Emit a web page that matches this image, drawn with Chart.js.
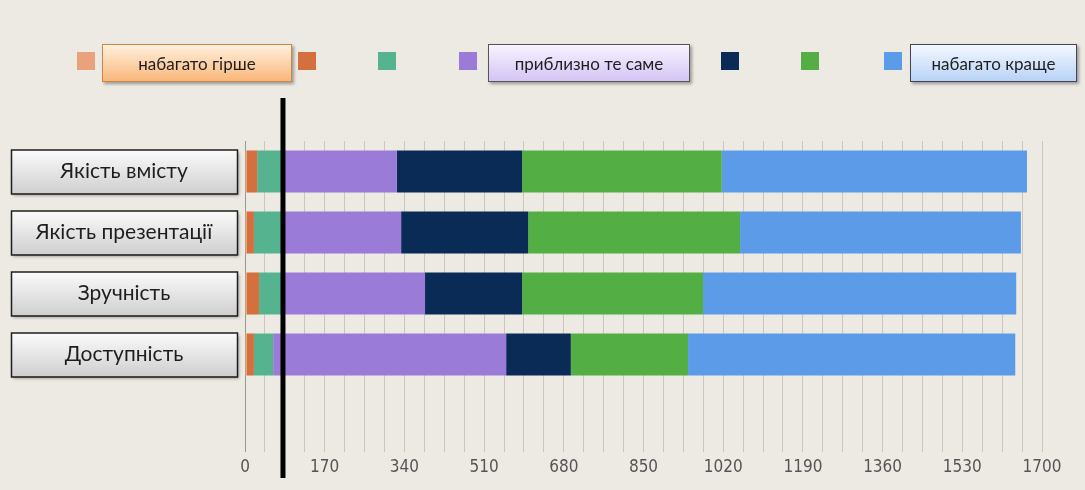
<!DOCTYPE html>
<html>
<head>
<meta charset="utf-8">
<script src="https://cdn.jsdelivr.net/npm/chart.js@4"></script>
<style>
html, body { margin: 0; padding: 0; background: #edeae4; }
#wrap { position: relative; width: 1085px; height: 490px; overflow: hidden; }
#chart { position: absolute; left: 0; top: 0; }
.sw { position: absolute; top: 52px; width: 18px; height: 18px; }
.lb { position: absolute; top: 44px; height: 38px; box-sizing: border-box; border: 1px solid #6a6a6a;
      font: 17px Lato, sans-serif; color: #1e1e1e; display: flex; align-items: center;
      justify-content: center; box-shadow: 2px 2px 3px rgba(0,0,0,.35); }
</style>
</head>
<body>
<div id="wrap">
  <canvas id="chart" width="1085" height="490"></canvas>
  <div id="legend"></div>
</div>
<script>
const categories = ['Якість вмісту', 'Якість презентації', 'Зручність', 'Доступність', ''];
const seriesNames = ['набагато гірше', '', '', 'приблизно те саме', '', '', 'набагато краще'];
const seriesColors = ['#e9a27c', '#d46f3e', '#55b48f', '#9b7bd8', '#0b2b57', '#53af44', '#5b9be8'];

const muchWorse   = [4, 4, 4, 4];
const worse       = [22, 15, 26, 15];
const slightWorse = [54, 61, 50, 41];
const same        = [244, 253, 304, 497];
const slightBetter = [267, 271, 207, 138];
const better      = [426, 452, 386, 250];
const muchBetter  = [651, 599, 668, 698];
const seriesValues = [muchWorse, worse, slightWorse, same, slightBetter, better, muchBetter];

const xTicks = [0, 170, 340, 510, 680, 850, 1020, 1190, 1360, 1530, 1700];
const markerValue = 81;

// legend (html, boxes around some names)
const legendLeft = [77, 298, 378, 459, 721, 801, 884];
const labelBox = {
    0: { left: 102, width: 190, bg: 'linear-gradient(#fff0de, #f9b77a)', border: '#c9874c' },
    3: { left: 488, width: 202, bg: 'linear-gradient(#f7f3ff, #d4c4f4)', border: '#555' },
    6: { left: 910, width: 167, bg: 'linear-gradient(#f4f8ff, #b8d3f7)', border: '#445' }
};
const legend = document.getElementById('legend');
seriesNames.forEach((name, i) => {
    const sw = document.createElement('div');
    sw.className = 'sw';
    sw.style.left = legendLeft[i] + 'px';
    sw.style.background = seriesColors[i];
    legend.appendChild(sw);
    if (name) {
        const b = labelBox[i];
        const lb = document.createElement('div');
        lb.className = 'lb';
        lb.textContent = name;
        lb.style.left = b.left + 'px';
        lb.style.width = b.width + 'px';
        lb.style.background = b.bg;
        lb.style.borderColor = b.border;
        legend.appendChild(lb);
    }
});

// boxed category labels
const boxLabels = {
    id: 'boxLabels',
    afterDraw(chart) {
        const ctx = chart.ctx, y = chart.scales.y;
        categories.forEach((c, i) => {
            if (!c) return;
            const cy = y.getPixelForValue(i);
            const top = cy - 22, left = 11, w = 226, h = 44;
            ctx.save();
            ctx.shadowColor = 'rgba(0,0,0,0.35)';
            ctx.shadowOffsetX = 2; ctx.shadowOffsetY = 2; ctx.shadowBlur = 3;
            const g = ctx.createLinearGradient(0, top, 0, top + h);
            g.addColorStop(0, '#fbfbfb');
            g.addColorStop(1, '#cfcfcf');
            ctx.fillStyle = g;
            ctx.fillRect(left, top, w, h);
            ctx.restore();
            ctx.save();
            ctx.strokeStyle = '#1e1e1e';
            ctx.lineWidth = 1.5;
            ctx.strokeRect(left + 0.5, top + 0.5, w, h);
            ctx.fillStyle = '#1e1e1e';
            ctx.font = '21px Lato, sans-serif';
            ctx.textAlign = 'center';
            ctx.textBaseline = 'middle';
            ctx.fillText(c, left + w / 2, cy);
            ctx.restore();
        });
    }
};

// thick black marker line
const marker = {
    id: 'marker',
    afterDraw(chart) {
        const ctx = chart.ctx;
        const x = chart.scales.x.getPixelForValue(markerValue);
        ctx.save();
        ctx.strokeStyle = '#000';
        ctx.lineWidth = 5;
        ctx.beginPath();
        ctx.moveTo(x, 98);
        ctx.lineTo(x, 478);
        ctx.stroke();
        ctx.restore();
    }
};

new Chart(document.getElementById('chart'), {
    type: 'bar',
    data: {
        labels: categories,
        datasets: seriesValues.map((vals, i) => ({
            label: seriesNames[i] || ('s' + i),
            data: vals,
            backgroundColor: seriesColors[i],
            borderWidth: 0,
            barPercentage: 0.69,
            categoryPercentage: 1
        }))
    },
    options: {
        indexAxis: 'y',
        responsive: false,
        animation: false,
        layout: { padding: { left: 245, right: 43, top: 141, bottom: 0 } },
        plugins: { legend: { display: false }, tooltip: { enabled: false } },
        scales: {
            x: {
                stacked: true,
                min: 0,
                max: 1700,
                border: { display: false },
                grid: {
                    color: ctx => ctx.tick && ctx.tick.value === 0 ? '#9a9792' : '#ccc7be',
                    tickLength: 6
                },
                ticks: {
                    stepSize: 42.5,
                    autoSkip: false,
                    maxRotation: 0,
                    padding: 5,
                    color: '#555',
                    font: { family: '"Liberation Sans Narrow", "DejaVu Sans Condensed", sans-serif', size: 17 },
                    callback: v => {
                        const t = xTicks.find(t => Math.abs(t - v) < 0.5);
                        return t === undefined ? '' : String(t);
                    }
                },
                afterFit: s => { s.height = 44; }
            },
            y: {
                stacked: true,
                grid: { display: false },
                border: { display: false },
                ticks: { display: false },
                afterFit: s => { s.width = 0; }
            }
        }
    },
    plugins: [boxLabels, marker]
});
</script>
</body>
</html>
